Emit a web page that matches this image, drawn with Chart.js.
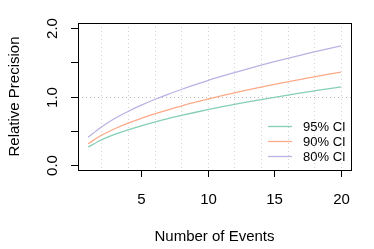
<!DOCTYPE html>
<html>
<head>
<meta charset="utf-8">
<script src="https://cdn.jsdelivr.net/npm/chart.js@4"></script>
<style>
  html, body { margin: 0; padding: 0; background: #fff; }
  #wrap { width: 374px; height: 249px; }
</style>
</head>
<body>
<div id="wrap"><canvas id="c" width="374" height="249"></canvas></div>
<script>
// number of events on x, relative precision on y
const events = [1,2,3,4,5,6,7,8,9,10,11,12,13,14,15,16,17,18,19,20];
const ci95 = [0.258,0.361,0.442,0.510,0.570,0.625,0.675,0.721,0.765,0.807,0.846,0.884,0.920,0.955,0.988,1.020,1.052,1.082,1.112,1.141];
const ci90 = [0.306,0.430,0.526,0.608,0.680,0.744,0.804,0.860,0.912,0.961,1.008,1.053,1.096,1.137,1.177,1.216,1.253,1.290,1.325,1.359];
const ci80 = [0.400,0.552,0.676,0.780,0.872,0.956,1.032,1.103,1.170,1.234,1.294,1.352,1.407,1.460,1.511,1.561,1.609,1.655,1.701,1.745];
const seriesNames = ['95% CI','90% CI','80% CI'];
const seriesColors = ['rgba(102,194,165,0.8)','rgba(252,141,98,0.75)','rgba(170,158,220,0.8)'];

const xTicks = [5,10,15,20];
const xGrid = [2,4,6,8,10,12,14,16,18,20];
const yTicks = [0,0.5,1,1.5,2];
const yLabels = {0:'0.0', 1:'1.0', 2:'2.0'};

const FONT = '"Liberation Sans", Arial, sans-serif';

function pts(ys){ return events.map((x,i)=>({x, y: ys[i]})); }

// R-style frame, ticks, labels and legend
const rFrame = {
  id: 'rFrame',
  beforeDatasetsDraw(chart){
    const {ctx, chartArea: a, scales: {x, y}} = chart;
    ctx.save();
    ctx.strokeStyle = '#d3d3d3';
    ctx.lineWidth = 1;
    ctx.setLineDash([1,3]);
    xGrid.forEach(v => {
      const px = Math.round(x.getPixelForValue(v)) + 0.5;
      ctx.beginPath(); ctx.moveTo(px, a.top); ctx.lineTo(px, a.bottom); ctx.stroke();
    });
    const py1 = Math.round(y.getPixelForValue(1)) + 0.5;
    ctx.strokeStyle = '#bbbbbb';
    ctx.beginPath(); ctx.moveTo(a.left, py1); ctx.lineTo(a.right, py1); ctx.stroke();
    ctx.restore();
  },
  afterDraw(chart){
    const {ctx, chartArea: a, scales: {x, y}} = chart;
    ctx.save();
    ctx.strokeStyle = '#000';
    ctx.lineWidth = 1;
    ctx.setLineDash([]);
    ctx.strokeRect(Math.round(a.left)+0.5, Math.round(a.top)+0.5, Math.round(a.right-a.left), Math.round(a.bottom-a.top));

    ctx.fillStyle = '#000';
    ctx.font = '15px ' + FONT;
    ctx.textAlign = 'center';
    ctx.textBaseline = 'middle';
    xTicks.forEach(v => {
      const px = Math.round(x.getPixelForValue(v)) + 0.5;
      ctx.beginPath(); ctx.moveTo(px, a.bottom); ctx.lineTo(px, a.bottom + 7); ctx.stroke();
      ctx.fillText(String(v), px, 200);
    });
    yTicks.forEach(v => {
      const py = Math.round(y.getPixelForValue(v)) + 0.5;
      ctx.beginPath(); ctx.moveTo(a.left - 7, py); ctx.lineTo(a.left, py); ctx.stroke();
      if (yLabels[v] !== undefined) {
        ctx.save();
        ctx.translate(53, py);
        ctx.rotate(-Math.PI/2);
        ctx.fillText(yLabels[v], 0, 0);
        ctx.restore();
      }
    });

    ctx.fillText('Number of Events', (a.left + a.right)/2, 237);
    ctx.save();
    ctx.translate(15, (a.top + a.bottom)/2);
    ctx.rotate(-Math.PI/2);
    ctx.fillText('Relative Precision', 0, 0);
    ctx.restore();

    // legend
    ctx.font = '13px ' + FONT;
    ctx.textAlign = 'left';
    seriesNames.forEach((name, i) => {
      const ly = 126 + i*15;
      ctx.strokeStyle = seriesColors[i];
      ctx.lineWidth = 1.3;
      ctx.beginPath(); ctx.moveTo(268, ly + 0.5); ctx.lineTo(292, ly + 0.5); ctx.stroke();
      ctx.fillStyle = '#000';
      ctx.fillText(name, 303, ly + 1);
    });
    ctx.restore();
  }
};

new Chart(document.getElementById('c').getContext('2d'), {
  type: 'line',
  data: {
    datasets: [ci95, ci90, ci80].map((ys, i) => ({
      label: seriesNames[i],
      data: pts(ys),
      borderColor: seriesColors[i],
      borderWidth: 1.3,
      pointRadius: 0,
      cubicInterpolationMode: 'monotone',
      fill: false
    }))
  },
  options: {
    responsive: false,
    animation: false,
    layout: { padding: { left: 78, top: 23, right: 23, bottom: 79 } },
    scales: {
      x: { type: 'linear', min: 0.24, max: 20.76, display: false },
      y: { type: 'linear', min: -0.08, max: 2.08, display: false }
    },
    plugins: { legend: { display: false }, tooltip: { enabled: false } }
  },
  plugins: [rFrame]
});
</script>
</body>
</html>
